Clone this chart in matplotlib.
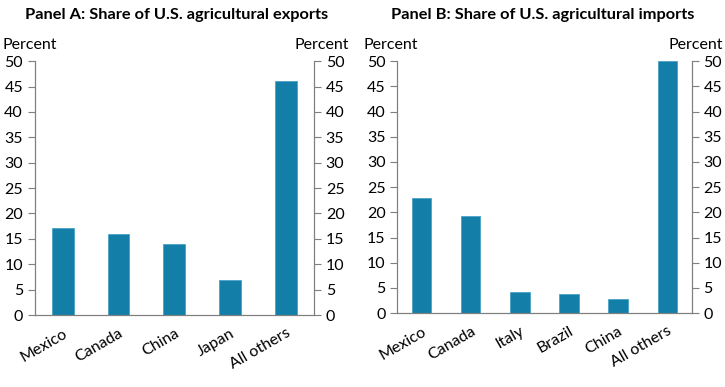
import matplotlib
matplotlib.use("Agg")
import matplotlib.pyplot as plt

plt.rcParams['font.family'] = ['Lato', 'DejaVu Sans']

# data
exports_countries = ["Mexico", "Canada", "China", "Japan", "All others"]
exports_share = [17.1, 16.0, 14.0, 6.8, 46.0]

imports_countries = ["Mexico", "Canada", "Italy", "Brazil", "China", "All others"]
imports_share = [22.8, 19.2, 4.1, 3.8, 2.8, 50.0]

yticks = [0, 5, 10, 15, 20, 25, 30, 35, 40, 45, 50]

bar_color = "#137fa8"
axis_color = "#7f7f7f"

fig = plt.figure(figsize=(7.25, 3.87), dpi=100)
ax_a = fig.add_axes([0.048, 0.186, 0.385, 0.656])
ax_b = fig.add_axes([0.548, 0.191, 0.406, 0.651])


def draw_panel(ax, cats, vals, title, title_x, left_x, right_x):
    ax.bar(range(len(cats)), vals, width=0.39, color=bar_color,
           edgecolor="#4aa3c6", linewidth=0.6)
    ax.set_xlim(-0.5, len(cats) - 0.5)
    ax.set_ylim(0, 50)
    ax.set_yticks(yticks)
    ax.set_xticks(range(len(cats)))
    ax.set_xticklabels(cats, rotation=30, ha="right", rotation_mode="anchor",
                       fontsize=11.5)
    ax.tick_params(axis="x", length=0, pad=8)
    ax.tick_params(axis="y", labelsize=11.5, color=axis_color, length=5)
    ax.spines["top"].set_visible(False)
    for s in ["left", "right", "bottom"]:
        ax.spines[s].set_color(axis_color)
    # right-hand axis mirrors the left
    twin = ax.twinx()
    twin.set_ylim(0, 50)
    twin.set_yticks(yticks)
    twin.tick_params(axis="y", labelsize=11.5, color=axis_color, length=5)
    twin.spines["top"].set_visible(False)
    for s in ["left", "right", "bottom"]:
        twin.spines[s].set_color(axis_color)
    fig.text(left_x, 0.865, "Percent", fontsize=11.5, ha="left", va="bottom")
    fig.text(right_x, 0.865, "Percent", fontsize=11.5, ha="right", va="bottom")
    fig.text(title_x, 0.96, title, fontsize=11.8, fontweight="bold",
             ha="center", va="center")


draw_panel(ax_a, exports_countries, exports_share,
           "Panel A: Share of U.S. agricultural exports", 0.244, 0.004, 0.482)
draw_panel(ax_b, imports_countries, imports_share,
           "Panel B: Share of U.S. agricultural imports", 0.749, 0.502, 0.997)

fig.savefig("out.png", dpi=100)
